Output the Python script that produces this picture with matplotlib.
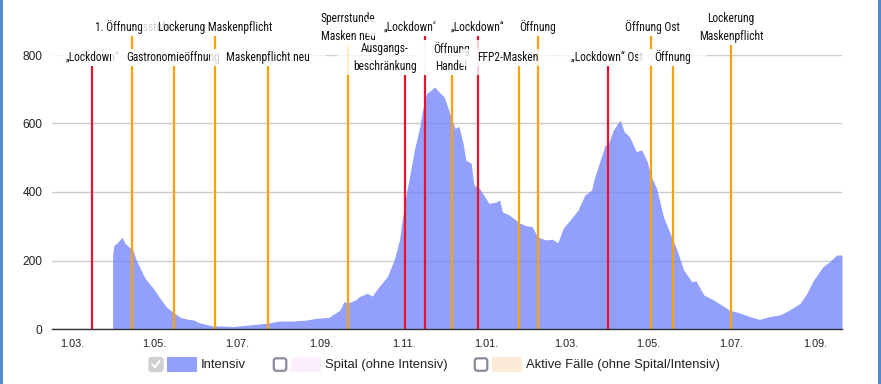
import matplotlib
matplotlib.use('Agg')
import matplotlib.pyplot as plt
import matplotlib.dates as mdates
from matplotlib import font_manager as fm
from matplotlib.patches import Rectangle, FancyBboxPatch
import pandas as pd

# ---------------- data ----------------
dates = ["2020-03-31", "2020-04-01", "2020-04-03", "2020-04-07", "2020-04-09", "2020-04-12",
         "2020-04-15", "2020-04-17", "2020-04-21", "2020-04-24", "2020-04-30", "2020-05-05",
         "2020-05-10", "2020-05-14", "2020-05-20", "2020-05-25", "2020-05-30", "2020-06-03",
         "2020-06-13", "2020-06-20", "2020-06-28", "2020-07-08", "2020-07-23", "2020-08-01",
         "2020-08-11", "2020-08-21", "2020-08-28", "2020-09-07", "2020-09-09", "2020-09-15",
         "2020-09-18", "2020-09-21", "2020-09-27", "2020-09-29", "2020-10-02", "2020-10-05",
         "2020-10-09", "2020-10-12", "2020-10-14", "2020-10-20", "2020-10-25", "2020-10-29",
         "2020-10-31", "2020-11-03", "2020-11-05", "2020-11-09", "2020-11-13", "2020-11-15",
         "2020-11-18", "2020-11-20", "2020-11-24", "2020-11-27", "2020-12-01", "2020-12-04",
         "2020-12-06", "2020-12-09", "2020-12-12", "2020-12-15", "2020-12-17", "2020-12-21",
         "2020-12-23", "2020-12-27", "2020-12-31", "2021-01-03", "2021-01-08", "2021-01-11",
         "2021-01-13", "2021-01-18", "2021-01-23", "2021-01-26", "2021-01-31", "2021-02-04",
         "2021-02-08", "2021-02-14", "2021-02-19", "2021-02-23", "2021-02-27", "2021-03-04",
         "2021-03-06", "2021-03-10", "2021-03-11", "2021-03-15", "2021-03-20", "2021-03-22",
         "2021-03-26", "2021-03-30", "2021-04-01", "2021-04-05", "2021-04-10", "2021-04-13",
         "2021-04-17", "2021-04-22", "2021-04-26", "2021-04-30", "2021-05-03", "2021-05-07",
         "2021-05-12", "2021-05-17", "2021-05-22", "2021-05-27", "2021-06-02", "2021-06-05",
         "2021-06-11", "2021-06-18", "2021-06-24", "2021-06-30", "2021-07-08", "2021-07-15",
         "2021-07-22", "2021-07-29", "2021-08-06", "2021-08-13", "2021-08-21", "2021-08-26",
         "2021-08-31", "2021-09-07", "2021-09-12", "2021-09-17", "2021-09-21"]
intensiv = [216, 245, 250, 268, 251, 240,
            231, 206, 172, 148, 119, 90,
            63, 51, 34, 29, 26, 18,
            9, 9, 7, 11, 17, 23,
            23, 26, 31, 34, 40, 55,
            80, 76, 86, 94, 99, 104,
            96, 114, 124, 153, 201, 260,
            318, 396, 435, 523, 591, 639,
            688, 693, 707, 693, 678, 644,
            620, 586, 591, 542, 493, 484,
            420, 411, 386, 367, 370, 377,
            342, 333, 318, 309, 301, 299,
            269, 260, 262, 252, 294, 318,
            328, 347, 357, 391, 406, 440,
            489, 537, 537, 581, 610, 576,
            561, 518, 523, 489, 445, 411,
            328, 279, 231, 172, 138, 141,
            99, 85, 70, 55, 46, 36,
            28, 36, 41, 55, 75, 104,
            143, 182, 197, 216, 216]

event_dates = ["2020-03-16", "2020-04-14", "2020-05-15", "2020-06-15", "2020-07-24",
               "2020-09-21", "2020-11-02", "2020-11-17", "2020-12-07", "2020-12-26",
               "2021-01-25", "2021-02-08", "2021-04-01", "2021-05-03", "2021-05-19",
               "2021-07-01"]
event_labels = ["„Lockdown“", "1. Öffnungsstufe", "Gastronomieöffnung", "Lockerung Maskenpflicht",
                "Maskenpflicht neu", "Sperrstunde\nMasken neu", "Ausgangs-\nbeschränkung",
                "„Lockdown“", "Öffnung\nHandel", "„Lockdown“", "FFP2-Masken", "Öffnung",
                "„Lockdown“ Ost", "Öffnung Ost", "Öffnung", "Lockerung\nMaskenpflicht"]
event_kind = ["lock", "open", "open", "open", "open", "open", "lock", "lock", "open", "lock",
              "open", "open", "lock", "open", "open", "open"]

tick_dates = ["2020-03-01", "2020-05-01", "2020-07-01", "2020-09-01", "2020-11-01",
              "2021-01-01", "2021-03-01", "2021-05-01", "2021-07-01", "2021-09-01"]
tick_labels = ["1.03.", "1.05.", "1.07.", "1.09.", "1.11.", "1.01.", "1.03.", "1.05.", "1.07.", "1.09."]
y_ticks = [0, 200, 400, 600, 800]
legend_labels = ["Intensiv", "Spital (ohne Intensiv)", "Aktive Fälle (ohne Spital/Intensiv)"]

# ---------------- layout / style ----------------
label_row = [1, 0, 1, 0, 1, 0, 1, 0, 1, 0, 1, 0, 1, 0, 1, 0]   # 0 = top row, 1 = lower row
label_dx = [0, 2, 0, 0, 0, 0, -20, -15, -1, 0, -11, 0, -1, 1, 0, 0]
COL_LOCK = '#e8132f'
COL_OPEN = '#ffa10a'
FILL = (110/255, 128/255, 250/255)

# pick a condensed font if one is installed
ttf = fm.fontManager.ttflist
names = {f.name for f in ttf}
NARROW_FP = None
for fam in ['Liberation Sans Narrow', 'Roboto Condensed', 'Open Sans Condensed', 'Noto Sans Condensed']:
    if fam in names:
        NARROW_FP = fm.FontProperties(family=fam, size=9.4)
        break
if NARROW_FP is None:
    cond = [f for f in ttf if f.name == 'DejaVu Sans' and str(f.stretch) in ('condensed', 'semi-condensed')
            and f.weight in (400, 'normal', 'regular') and f.style == 'normal']
    if cond:
        NARROW_FP = fm.FontProperties(fname=cond[0].fname, size=8.6)
    else:
        NARROW_FP = fm.FontProperties(family='Liberation Sans', size=7.8)
REG = 'Liberation Sans' if 'Liberation Sans' in names else 'DejaVu Sans'

W, H = 881, 384
fig = plt.figure(figsize=(W / 100, H / 100), dpi=100)
fig.patch.set_facecolor('white')

# size the label font so that "Lockerung Maskenpflicht" is about 115 px wide, as in the reference
probe = fig.text(0, 0, "Lockerung Maskenpflicht", fontproperties=NARROW_FP)
fig.canvas.draw()
pw = probe.get_window_extent(fig.canvas.get_renderer()).width
probe.remove()
NARROW_FP.set_size(NARROW_FP.get_size() * 115.0 / pw)

ax = fig.add_axes([52 / W, 55 / H, 790 / W, 274 / H])
x = mdates.date2num(pd.to_datetime(dates))
ax.fill_between(x, 0, intensiv, color=FILL, alpha=0.75, lw=0, zorder=2)
ax.set_xlim(mdates.date2num(pd.Timestamp("2020-02-15 05:00")),
            mdates.date2num(pd.Timestamp("2021-09-21 00:00")))
ax.set_ylim(0, 800)
ax.set_yticks(y_ticks)
ax.set_yticklabels([str(v) for v in y_ticks], fontfamily=REG, fontsize=8.6, color='#222222')
ax.set_xticks(mdates.date2num(pd.to_datetime(tick_dates)))
ax.set_xticklabels(tick_labels, fontfamily=REG, fontsize=7.8, color='#222222')
ax.tick_params(axis='y', length=0, pad=7)
ax.tick_params(axis='x', length=0, pad=7)
ax.set_axisbelow(True)
ax.yaxis.grid(True, color='#cccccc', lw=1)
for s in ['top', 'right', 'left']:
    ax.spines[s].set_visible(False)
ax.spines['bottom'].set_color('#333333')
ax.spines['bottom'].set_linewidth(1)
ax.spines['bottom'].set_zorder(5)
ax.patch.set_alpha(0)

# overlay axes in pixel coordinates
ov = fig.add_axes([0, 0, 1, 1], zorder=5)
ov.set_xlim(0, W)
ov.set_ylim(H, 0)
ov.axis('off')
ov.patch.set_alpha(0)

ev_x = mdates.date2num(pd.to_datetime(event_dates))
texts = []
for i, (ex, lab, row) in enumerate(zip(ev_x, event_labels, label_row)):
    px = ax.transData.transform((ex, 0))[0]
    yc = 27.5 if row == 0 else 57.5
    t = ov.text(px + label_dx[i], yc, lab, ha='center', va='center', color='#111111',
                linespacing=1.45, zorder=10 + 2 * i, fontproperties=NARROW_FP)
    texts.append(t)

fig.canvas.draw()
renderer = fig.canvas.get_renderer()
box_bottom = []
for t in texts:
    bb = t.get_window_extent(renderer)
    top = H - bb.y1 - 2
    bot = H - bb.y0 + 2
    ov.add_patch(Rectangle((bb.x0 - 16, top), bb.width + 32, bot - top, facecolor='white',
                           edgecolor='none', alpha=0.8, zorder=t.get_zorder() - 1))
    box_bottom.append(bot)

for ex, kind, bot in zip(ev_x, event_kind, box_bottom):
    ytop = ax.transData.inverted().transform((0, H - bot))[1]
    ax.plot([ex, ex], [0, ytop], color=COL_LOCK if kind == 'lock' else COL_OPEN, lw=1.6,
            clip_on=False, zorder=3, solid_capstyle='butt')

# legend
leg_items = [(149, FILL, 0.75, True), (273, '#fbf0fc', 1.0, False), (474, '#fdebd7', 1.0, False)]
for (lx, col, a, checked), lab in zip(leg_items, legend_labels):
    if checked:
        ov.add_patch(FancyBboxPatch((lx, 357.5), 14, 14, boxstyle='round,pad=0,rounding_size=2.5',
                                    facecolor='#cfcfd4', edgecolor='#cfcfd4', lw=1, zorder=20))
        ov.plot([lx + 3.5, lx + 6, lx + 10.5], [364.5, 367.5, 361], color='white', lw=1.4, zorder=21)
    else:
        ov.add_patch(FancyBboxPatch((lx + 0.8, 358.3), 12.5, 12.5, boxstyle='round,pad=0,rounding_size=2.5',
                                    facecolor='white', edgecolor='#8a8a96', lw=1.6, zorder=20))
    ov.add_patch(Rectangle((lx + 18, 357), 30, 15, facecolor=col, alpha=a, edgecolor='none', zorder=20))
    ov.text(lx + 52, 365, lab, ha='left', va='center', fontfamily=REG, fontsize=9.4,
            color='#222222', zorder=21)

# side bars
ov.add_patch(Rectangle((0, 0), 3, H, facecolor='#5589c9', edgecolor='none', zorder=30))
ov.add_patch(Rectangle((878, 0), 3, H, facecolor='#5589c9', edgecolor='none', zorder=30))

fig.savefig('out.png', dpi=100, facecolor='white')
